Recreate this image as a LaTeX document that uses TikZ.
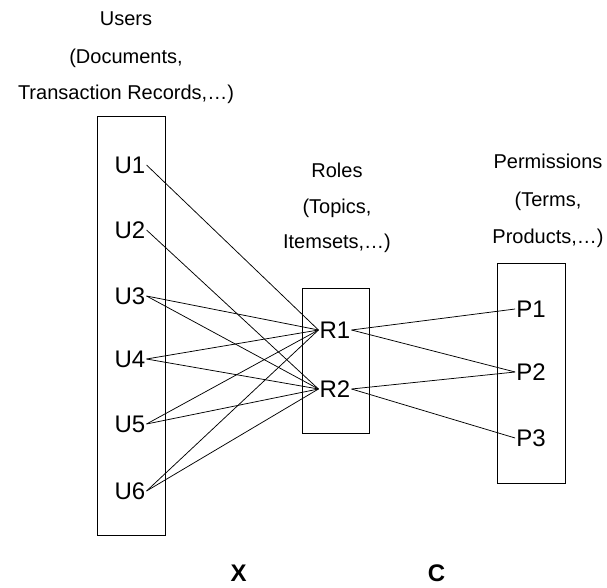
\documentclass[tikz,border=0pt]{standalone}
\usepackage{fontspec}
\setmainfont{Liberation Sans}
\usetikzlibrary{positioning}
\tikzset{
  head/.style={font=\fontsize{20}{24}\selectfont, anchor=base, inner sep=0pt},
  entry/.style={font=\fontsize{24}{28}\selectfont, inner sep=1pt},
  group/.style={draw, line width=1pt},
  link/.style={line width=0.75pt},
  factor/.style={font=\bfseries\fontsize{24}{28}\selectfont},
}
\begin{document}
\begin{tikzpicture}[x=1pt, y=-1pt]
  \useasboundingbox (0,0) rectangle (607,588);
  % column headings
  \node[head] (hu1) at (126,26)  {Users};
  \node[head] (hu2) at (126,64)  {(Documents,};
  \node[head] (hu3) at (126,100) {Transaction Records,\dots)};
  \node[head] (hr1) at (337,178) {Roles};
  \node[head] (hr2) at (337,213) {(Topics,};
  \node[head] (hr3) at (337,248) {Itemsets,\dots)};
  \node[head] (hp1) at (548,168) {Permissions};
  \node[head] (hp2) at (548,206) {(Terms,};
  \node[head] (hp3) at (548,243) {Products,\dots)};
  % boxes
  \draw[group] (97,117)  rectangle (165,535);
  \draw[group] (302,288) rectangle (369,433);
  \draw[group] (497,263) rectangle (565,483);
  % entries
  \foreach \i/\y in {1/165,2/230,3/296,4/359,5/424,6/491}
    \node[entry] (u\i) at (130,\y) {U\i};
  \foreach \i/\y in {1/330,2/389}
    \node[entry] (r\i) at (335,\y) {R\i};
  \foreach \i/\y in {1/309,2/372,3/438}
    \node[entry] (p\i) at (531,\y) {P\i};
  % user -> role
  \foreach \a/\b in {u1/r1,u2/r2,u3/r1,u3/r2,u4/r1,u4/r2,u5/r1,u5/r2,u6/r1,u6/r2}
    \draw[link] (\a.east) -- (\b.west);
  % role -> permission
  \foreach \a/\b in {r1/p1,r1/p2,r2/p2,r2/p3}
    \draw[link] (\a.east) -- (\b.west);
  % factor names
  \node[factor] (fx) at (238.5,573) {X};
  \node[factor] (fc) at (436.5,573) {C};
\end{tikzpicture}
\end{document}
